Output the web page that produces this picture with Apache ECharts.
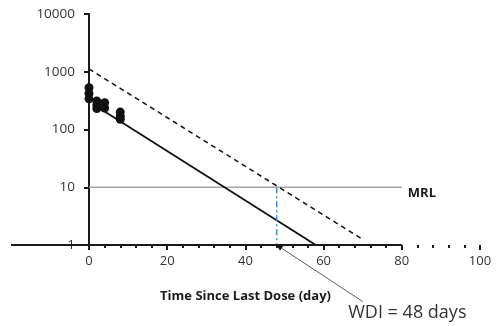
<!DOCTYPE html>
<html><head><meta charset="utf-8">
<script src="https://cdn.jsdelivr.net/npm/echarts@6/dist/echarts.min.js"></script>
<style>html,body{margin:0;padding:0;background:#fff}#c{width:497px;height:326px}</style>
</head><body><div id="c"></div>
<script>
// observed residue data (day, concentration)
var obsDays = [0, 0, 0, 2, 2, 2, 4, 4, 8, 8, 8];
var obsConc = [530, 420, 340, 310, 265, 230, 290, 235, 200, 170, 150];
// fitted regression line (solid) and upper tolerance limit line (dashed)
var fitDays = [4, 58];
var fitConc = [205, 1];
var tolDays = [0, 70];
var tolConc = [1120, 1.25];
// MRL
var mrlDays = [0, 80];
var mrlValue = 10;
var wdiDay = 48;
// x axis visible segment
var axisSegDays = [-20, 80];
var xTicks = [0, 20, 40, 60, 80, 100];
var yTicks = [1, 10, 100, 1000, 10000];
// annotation anchor (data coords)
var noteFrom = [70, 0.105];
var noteText = 'WDI = 48 days';
var noteTextAt = [66.3, 0.068];

function pairs(xs, ys){ return xs.map(function(x,i){ return [x, ys[i]]; }); }

var FONT = '"Open Sans", sans-serif';
var chart = echarts.init(document.getElementById('c'), null, {renderer:'canvas'});
var option = {
  animation: false,
  backgroundColor: '#fff',
  grid: [
    {left: 11, right: 17, top: 14, bottom: 81},
    {left: 89, right: 17, top: 14, bottom: 81}
  ],
  xAxis: [
    {gridIndex: 0, type: 'value', min: -20, max: 100,
     axisLine: {show: false}, axisTick: {show: false}, axisLabel: {show: false}, splitLine: {show: false},
     name: 'Time Since Last Dose (day)', nameLocation: 'middle', nameGap: 45,
     nameTextStyle: {fontFamily: FONT, fontWeight: 'bold', fontSize: 13, color: '#1a1a1a'}},
    {gridIndex: 1, type: 'value', min: 0, max: 100, interval: 20,
     axisLine: {show: false},
     axisTick: {show: true, length: 5, lineStyle: {color: '#1a1a1a', width: 2}},
     minorTick: {show: true, splitNumber: 5, length: 3, lineStyle: {color: '#1a1a1a', width: 2}},
     axisLabel: {fontFamily: FONT, fontSize: 13, color: '#333', margin: 10},
     splitLine: {show: false}}
  ],
  yAxis: [
    {gridIndex: 0, type: 'log', min: 1, max: 10000, show: false},
    {gridIndex: 1, type: 'log', min: 1, max: 10000, logBase: 10,
     axisLine: {show: true, lineStyle: {color: '#1a1a1a', width: 2}},
     axisTick: {show: true, length: 5, lineStyle: {color: '#1a1a1a', width: 2}},
     axisLabel: {fontFamily: FONT, fontSize: 13.5, color: '#333', margin: 14,
       formatter: function(v){ return String(Math.round(v)); }},
     splitLine: {show: false}}
  ],
  series: [
    {type: 'line', xAxisIndex: 1, yAxisIndex: 1, data: pairs(mrlDays, [mrlValue, mrlValue]),
     symbol: 'none', lineStyle: {color: '#a6a6a6', width: 1.5}, z: 1,
     endLabel: {show: true, formatter: 'MRL', fontFamily: FONT, fontWeight: 'bold', fontSize: 13,
       color: '#1a1a1a', offset: [-2, 6]}},
    {type: 'line', xAxisIndex: 1, yAxisIndex: 1, data: pairs(tolDays, tolConc),
     symbol: 'none', lineStyle: {color: '#111', width: 1.5, type: [5, 4]}, z: 2},
    {type: 'line', xAxisIndex: 1, yAxisIndex: 1, data: pairs(fitDays, fitConc),
     symbol: 'none', lineStyle: {color: '#111', width: 1.8}, z: 2},
    {type: 'line', xAxisIndex: 1, yAxisIndex: 1, data: [[wdiDay, mrlValue], [wdiDay, 1]],
     symbol: 'none', lineStyle: {color: '#3f8ad0', width: 1.5, type: [6, 3, 2, 3]}, z: 2},
    {type: 'line', xAxisIndex: 0, yAxisIndex: 0, data: pairs(axisSegDays, [1, 1]),
     symbol: 'none', lineStyle: {color: '#1a1a1a', width: 2}, z: 5},
    {type: 'scatter', xAxisIndex: 1, yAxisIndex: 1, data: pairs(obsDays, obsConc),
     symbol: 'circle', symbolSize: 9, itemStyle: {color: '#111', opacity: 1}, z: 4}
  ]
};
chart.setOption(option);
var p0 = chart.convertToPixel({xAxisIndex: 1, yAxisIndex: 1}, noteFrom);
var p1 = chart.convertToPixel({xAxisIndex: 1, yAxisIndex: 1}, [wdiDay, 1]);
var pt = chart.convertToPixel({xAxisIndex: 1, yAxisIndex: 1}, noteTextAt);
var ang = Math.atan2(p1[1]-p0[1], p1[0]-p0[0]);
var ah = 6, aw = 3;
var bx = p1[0]-ah*Math.cos(ang), by = p1[1]-ah*Math.sin(ang);
chart.setOption({graphic: [
  {type: 'line', shape: {x1: p0[0], y1: p0[1], x2: bx, y2: by}, style: {stroke: '#333', lineWidth: 0.8}, z: 10},
  {type: 'polygon', shape: {points: [[p1[0], p1[1]], [bx + aw*Math.sin(ang), by - aw*Math.cos(ang)], [bx - aw*Math.sin(ang), by + aw*Math.cos(ang)]]},
   style: {fill: '#111'}, z: 10},
  {type: 'text', x: pt[0], y: pt[1], style: {text: noteText, font: '18px "Open Sans", sans-serif', fill: '#333', textVerticalAlign: 'middle'}, z: 10}
]});
</script>
</body></html>
